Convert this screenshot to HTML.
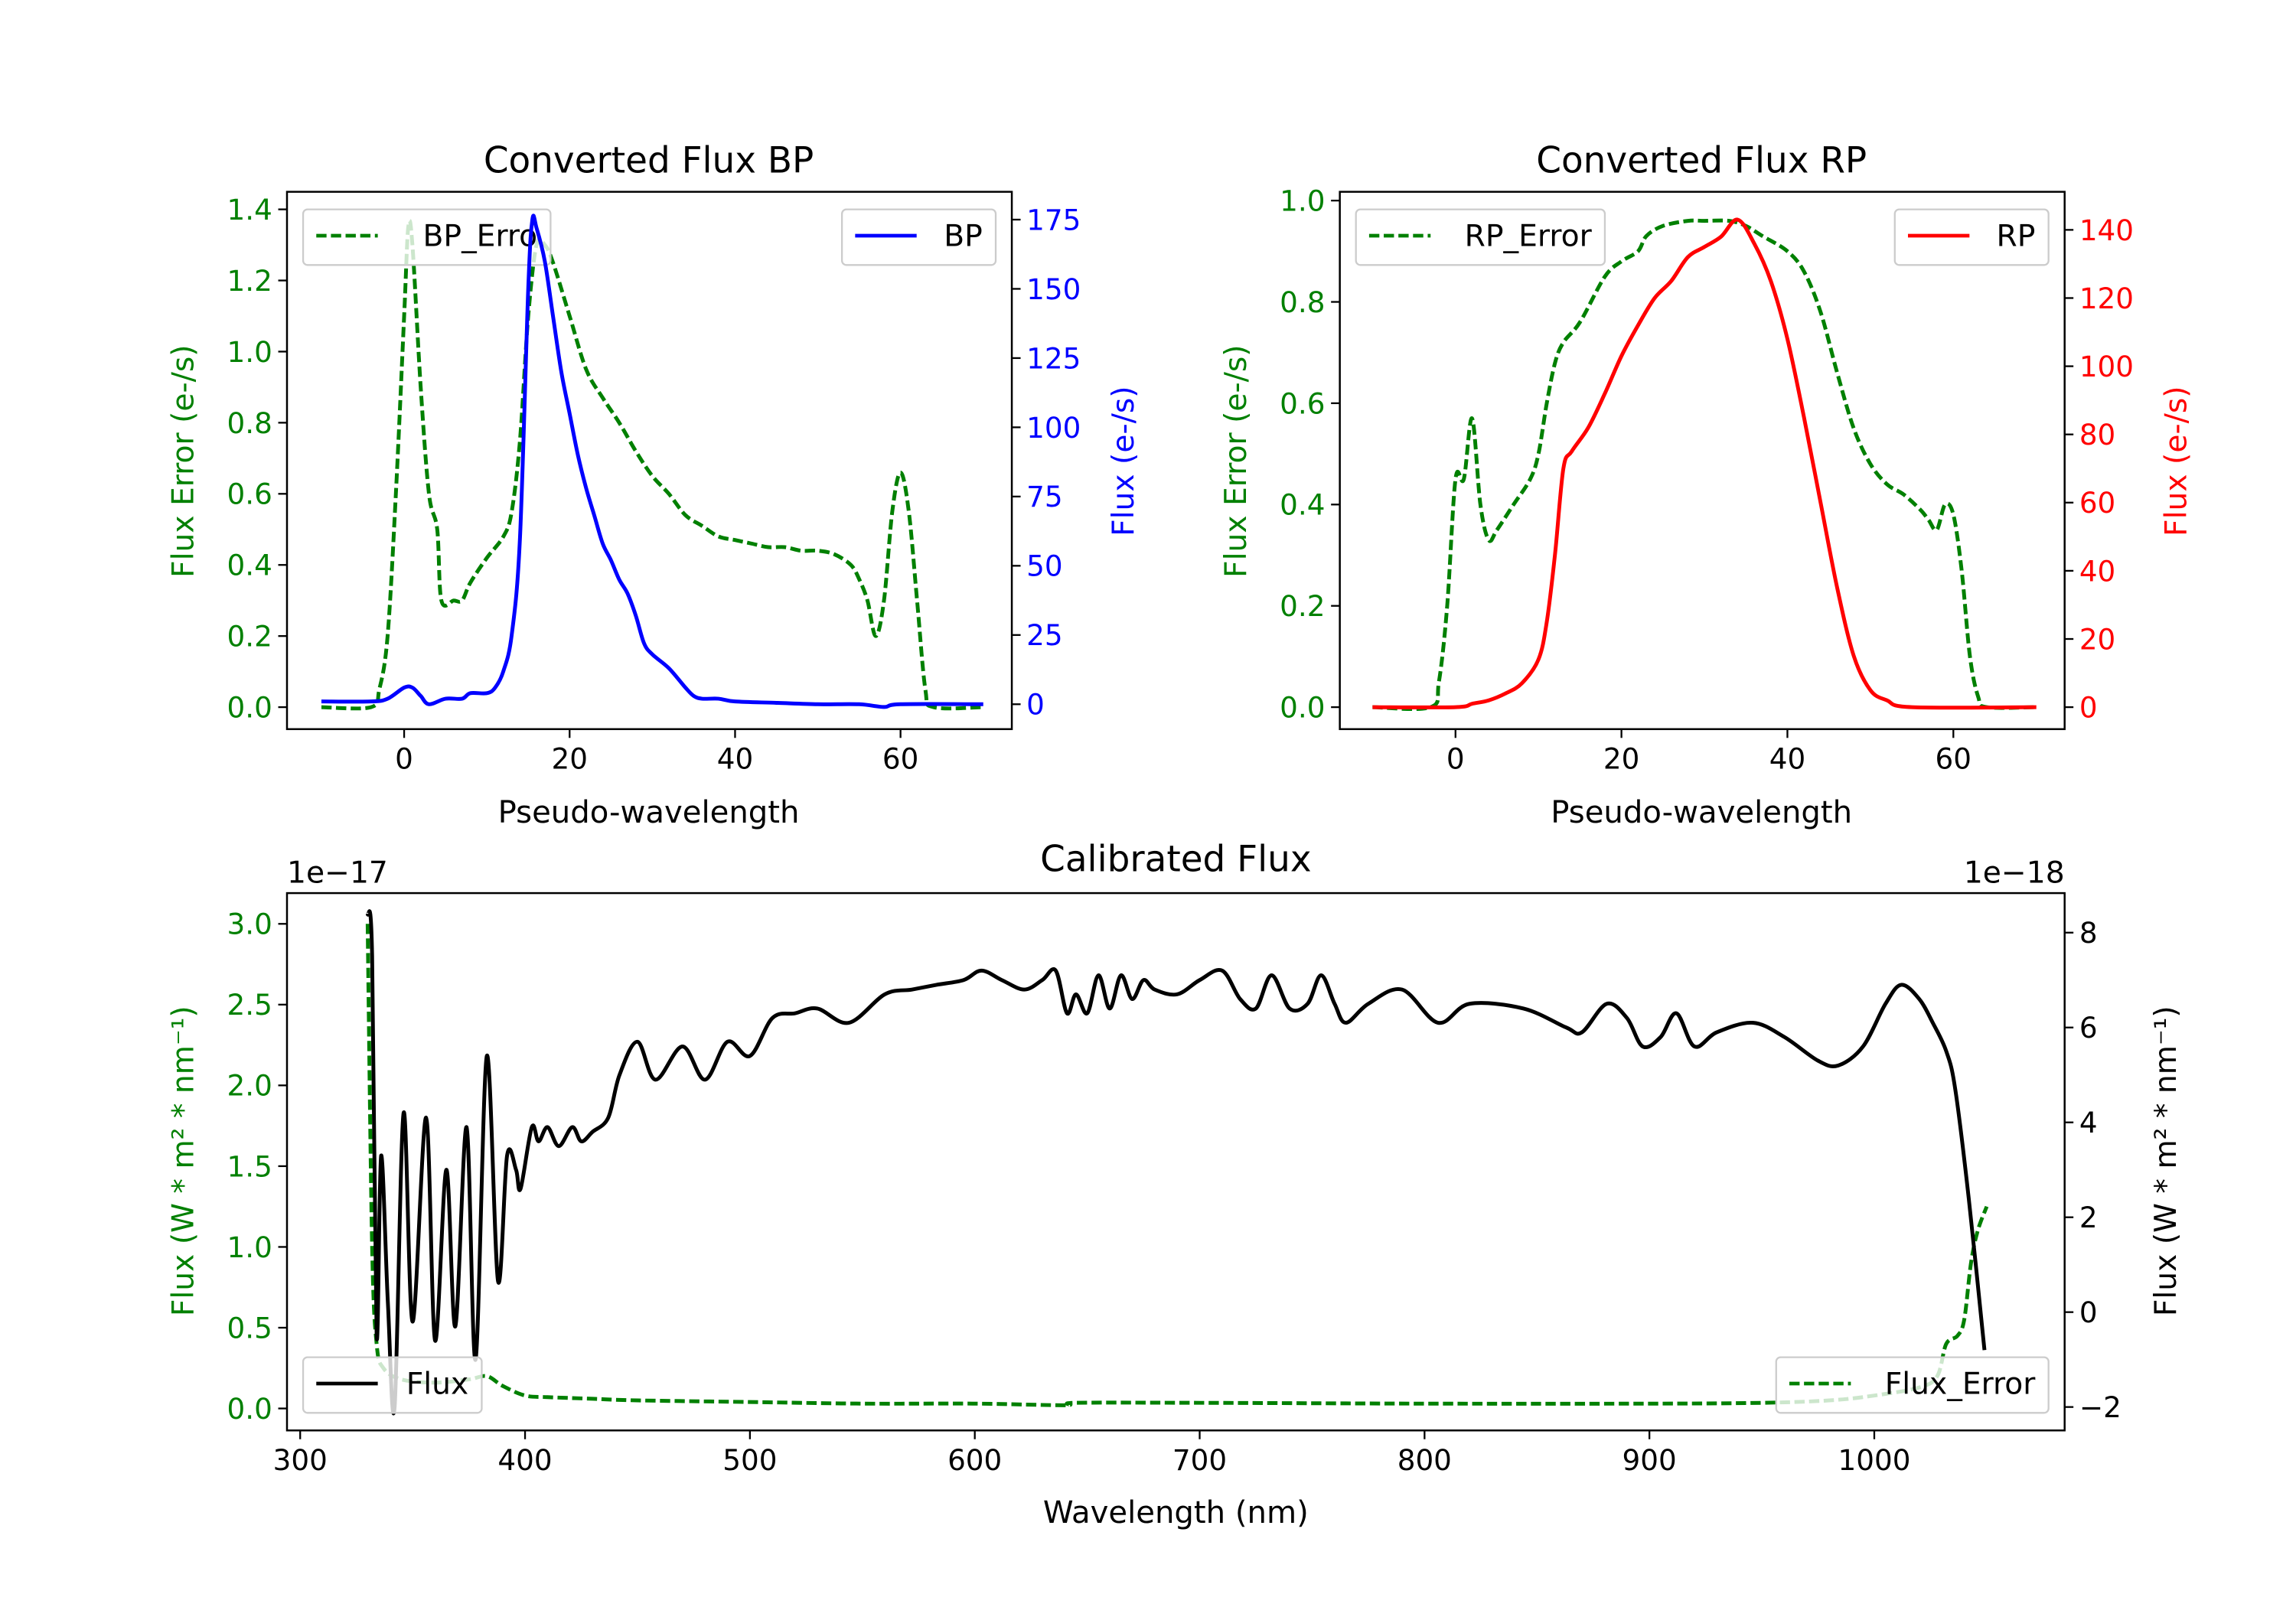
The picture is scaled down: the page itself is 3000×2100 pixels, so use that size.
<!DOCTYPE html>
<html><head><meta charset="utf-8"><style>
html,body{margin:0;padding:0;background:#fff;}
svg{display:block;}
text{font-family:"DejaVu Sans","Liberation Sans",sans-serif;}
</style></head><body>
<svg id="fig" width="3000" height="2100" viewBox="0 0 1568 1097.6" preserveAspectRatio="none" xmlns="http://www.w3.org/2000/svg">
<rect width="1568" height="1098" fill="#fff"/>
<defs>
<clipPath id="c1"><rect x="196" y="131" width="495" height="367"/></clipPath>
<clipPath id="c2"><rect x="915" y="131" width="495" height="367"/></clipPath>
<clipPath id="c3"><rect x="196" y="610" width="1214" height="367"/></clipPath>
</defs>
<g id="g"></g>
</svg>
<script>
// ---- BP panel data ----
const bpX = [-10,-4,-2,0,1,2,3,5,7,8,10,11,12,13,14,15,15.5,16,17,18,19,20,21,22,23,24,25,26,27,28,29,30,32,34,35,36,38,40,45,50,55,58,60,70];
const bpFlux = [1,1,2,6,6,3,0,2,2,4,4,6,12,25,60,150,175,172,160,140,120,105,90,78,68,58,52,45,40,32,22,18,13,6,3,2,2,1,0.5,0,0,-1,0,0];
const bpErrX = [-10,-4,-3,-2,-1,0,0.5,1,2,3,4,4.5,6,7,8,10,12,13,14,15,16,17,18,20,22,24,26,28,30,32,34,36,38,40,42,44,46,48,50,52,54,55,56,57,58,59,60,61,62,63,64,70];
const bpErr = [0,0,0.05,0.2,0.6,1.1,1.35,1.3,0.9,0.6,0.5,0.3,0.3,0.3,0.35,0.42,0.48,0.55,0.75,1.1,1.3,1.3,1.25,1.1,0.95,0.87,0.8,0.72,0.65,0.6,0.54,0.51,0.48,0.47,0.46,0.45,0.45,0.44,0.44,0.43,0.4,0.36,0.3,0.2,0.3,0.55,0.66,0.55,0.3,0.05,0,0];
// ---- RP panel data ----
const rpX = [-10,0,2,4,6,8,10,11,12,13,14,16,18,20,22,24,26,28,30,32,34,36,38,40,42,44,46,48,50,52,55,70];
const rpFlux = [0,0,1,2,4,7,14,25,45,70,75,82,92,103,112,120,125,132,135,138,143,136,125,108,85,60,35,15,5,2,0,0];
const rpErrX = [-10,-3,-2,-1,0,1,2,3,4,5,7,9,10,11,12,13,15,18,20,22,23,25,28,30,33,35,37,40,42,44,46,48,50,52,54,56,57,58,59,60,61,62,63,64,70];
const rpErr = [0,0,0.05,0.2,0.45,0.45,0.57,0.4,0.33,0.35,0.4,0.45,0.5,0.6,0.68,0.72,0.76,0.85,0.88,0.9,0.93,0.95,0.96,0.96,0.96,0.95,0.93,0.9,0.86,0.78,0.66,0.55,0.48,0.44,0.42,0.39,0.37,0.35,0.4,0.38,0.27,0.1,0.02,0,0];
// ---- Calibrated flux data ----
const wlX = [330,332,334,336,339,342,346,350,356,360,365,369,374,378,383,388,392,396,398,403,406,410,415,421,425,430,437,442,450,458,470,480,490,500,510,520,530,544,560,572,583,595,603,612,622,630,636,641,645,650,655,660,665,670,675,680,690,700,710,718,725,732,740,748,754,760,765,775,790,806,820,844,863,870,881,890,897,905,912,920,930,946,960,975,984,995,1005,1012,1020,1026,1032,1036,1042,1049];
const wlFlux = [8.4,7.5,-0.5,3.3,0.2,-2,4.2,-0.2,4.1,-0.6,3,-0.3,3.9,-1,5.4,0.65,3.3,3,2.6,3.9,3.6,3.9,3.5,3.9,3.6,3.8,4.1,5,5.7,4.9,5.6,4.9,5.7,5.4,6.2,6.3,6.4,6.1,6.7,6.8,6.9,7.0,7.2,7.0,6.8,7.0,7.2,6.3,6.7,6.3,7.1,6.4,7.1,6.6,7.0,6.8,6.7,7.0,7.2,6.6,6.4,7.1,6.4,6.5,7.1,6.5,6.1,6.5,6.8,6.1,6.5,6.4,6.0,5.9,6.5,6.2,5.6,5.8,6.3,5.6,5.9,6.1,5.8,5.3,5.2,5.6,6.5,6.9,6.6,6.1,5.5,4.7,2.4,-0.8];
const errX = [330,332,334,337,345,360,375,383,390,400,410,430,450,500,550,600,640,645,700,800,900,950,980,1000,1020,1028,1032,1037,1040,1043,1046,1050];
const errVal = [3.0,1.0,0.4,0.25,0.18,0.16,0.18,0.2,0.14,0.08,0.07,0.06,0.05,0.04,0.03,0.03,0.02,0.035,0.035,0.03,0.03,0.035,0.05,0.08,0.13,0.2,0.4,0.45,0.55,0.9,1.1,1.25];

const NS='http://www.w3.org/2000/svg';
const G=document.getElementById('g');
function el(tag,attrs,parent){const e=document.createElementNS(NS,tag);for(const k in attrs)e.setAttribute(k,attrs[k]);(parent||G).appendChild(e);return e;}
function lin(d0,d1,p0,p1){return v=>p0+(v-d0)*(p1-p0)/(d1-d0);}
// Catmull-Rom smoothed path through the data points
function pathD(xs,ys,fx,fy){
  const P=xs.map((x,i)=>[fx(x),fy(ys[i])]);
  let d='M'+P[0][0].toFixed(2)+','+P[0][1].toFixed(2);
  for(let i=0;i<P.length-1;i++){
    const p0=P[Math.max(0,i-1)],p1=P[i],p2=P[i+1],p3=P[Math.min(P.length-1,i+2)];
    const c1=[p1[0]+(p2[0]-p0[0])/6,p1[1]+(p2[1]-p0[1])/6];
    const c2=[p2[0]-(p3[0]-p1[0])/6,p2[1]-(p3[1]-p1[1])/6];
    d+='C'+c1[0].toFixed(2)+','+c1[1].toFixed(2)+' '+c2[0].toFixed(2)+','+c2[1].toFixed(2)+' '+p2[0].toFixed(2)+','+p2[1].toFixed(2);
  }
  return d;
}
function txt(x,y,s,size,fill,anchor,rot){const t=el('text',{x:x,y:y,'font-size':size,fill:fill,'text-anchor':anchor||'middle'});if(rot)t.setAttribute('transform','rotate(-90 '+x+' '+y+')');t.textContent=s;return t;}

function legend(x,y,w,label,color,dash){
  const g=el('g',{});
  
  
  el('rect',{x:x,y:y,width:w,height:38,rx:3,fill:'#fff','fill-opacity':0.8,stroke:'#ccc','stroke-width':1.2},g);
  const l=el('line',{x1:x+9,y1:y+18,x2:x+51,y2:y+18,stroke:color,'stroke-width':2.5},g);
  if(dash)l.setAttribute('stroke-dasharray','7,3');
  const t=el('text',{x:x+w-9,y:y+25,'font-size':20.5,fill:'#000','text-anchor':'end'},g);t.textContent=label;
}

function yTicks(x,side,vals,fy,fmt,color){
  vals.forEach(v=>{const y=fy(v);
    if(side<0){el('line',{x1:x,y1:y,x2:x-6,y2:y,stroke:'#000','stroke-width':1.2});txt(x-10,y+7,fmt(v),19.5,color,'end');}
    else{el('line',{x1:x,y1:y,x2:x+6,y2:y,stroke:'#000','stroke-width':1.2});txt(x+10,y+7,fmt(v),19.5,color,'start');}
  });
}
function xTicks(y,vals,fx){vals.forEach(v=>{const x=fx(v);el('line',{x1:x,y1:y,x2:x,y2:y+6,stroke:'#000','stroke-width':1.2});txt(x,y+27,String(v),19.5,'#000');});}

const f1=v=>v.toFixed(1);
const LW=2.6;
// ---------- BP ----------
(function(){
  const fx=lin(0,60,276,615), fyL=lin(0,1.4,483,143), fyR=lin(0,175,481,150);
  const e=el('path',{d:pathD(bpErrX,bpErr,fx,fyL),fill:'none',stroke:'green','stroke-width':LW,'stroke-dasharray':'7,3','clip-path':'url(#c1)'});
  
  
  legend(207,143,169,'BP_Erro','green',true);
  const l=el('path',{d:pathD(bpX,bpFlux,fx,fyR),fill:'none',stroke:'blue','stroke-width':LW,'clip-path':'url(#c1)'});
  
  
  legend(575,143,105,'BP','blue',false);
  el('rect',{x:196,y:131,width:495,height:367,fill:'none',stroke:'#000','stroke-width':1.3});
  yTicks(196,-1,[0,0.2,0.4,0.6,0.8,1.0,1.2,1.4],fyL,f1,'green');
  yTicks(691,1,[0,25,50,75,100,125,150,175],fyR,v=>String(v),'blue');
  xTicks(498,[0,20,40,60],fx);
  txt(443,118,'Converted Flux BP',24.5,'#000');
  txt(443,562,'Pseudo-wavelength',21,'#000');
  txt(132,315,'Flux Error (e-/s)',20.5,'green','middle',true);
  txt(774,315,'Flux (e-/s)',20.5,'blue','middle',true);
})();
// ---------- RP ----------
(function(){
  const fx=lin(0,60,994,1334), fyL=lin(0,1.0,483,137), fyR=lin(0,140,483,157);
  const e=el('path',{d:pathD(rpErrX,rpErr,fx,fyL),fill:'none',stroke:'green','stroke-width':LW,'stroke-dasharray':'7,3','clip-path':'url(#c2)'});
  
  
  legend(926,143,170,'RP_Error','green',true);
  const l=el('path',{d:pathD(rpX,rpFlux,fx,fyR),fill:'none',stroke:'red','stroke-width':LW,'clip-path':'url(#c2)'});
  
  
  legend(1294,143,105,'RP','red',false);
  el('rect',{x:915,y:131,width:495,height:367,fill:'none',stroke:'#000','stroke-width':1.3});
  yTicks(915,-1,[0,0.2,0.4,0.6,0.8,1.0],fyL,f1,'green');
  yTicks(1410,1,[0,20,40,60,80,100,120,140],fyR,v=>String(v),'red');
  xTicks(498,[0,20,40,60],fx);
  txt(1162,118,'Converted Flux RP',24.5,'#000');
  txt(1162,562,'Pseudo-wavelength',21,'#000');
  txt(851,315,'Flux Error (e-/s)',20.5,'green','middle',true);
  txt(1493,315,'Flux (e-/s)',20.5,'red','middle',true);
})();
// ---------- Calibrated ----------
(function(){
  const fx=lin(300,1000,205,1280), fyL=lin(0,3.0,962,631), fyR=lin(-2,8,961,637);
  const e=el('path',{d:pathD(errX,errVal,fx,fyL),fill:'none',stroke:'green','stroke-width':LW,'stroke-dasharray':'7,3','clip-path':'url(#c3)'});
  
  
  const l=el('path',{d:pathD(wlX,wlFlux,fx,fyR),fill:'none',stroke:'#000','stroke-width':LW,'stroke-linejoin':'round','clip-path':'url(#c3)'});
  
  
  legend(207,927,122,'Flux','#000',false);
  legend(1213,927,186,'Flux_Error','green',true);
  el('rect',{x:196,y:610,width:1214,height:367,fill:'none',stroke:'#000','stroke-width':1.3});
  yTicks(196,-1,[0,0.5,1.0,1.5,2.0,2.5,3.0],fyL,f1,'green');
  yTicks(1410,1,[-2,0,2,4,6,8],fyR,v=>(v<0?'\u2212'+(-v):String(v)),'#000');
  xTicks(977,[300,400,500,600,700,800,900,1000],fx);
  txt(803,595,'Calibrated Flux',24.5,'#000');
  txt(803,1040,'Wavelength (nm)',21,'#000');
  txt(196,603,'1e\u221217',20.5,'#000','start');
  txt(1410,603,'1e\u221218',20.5,'#000','end');
  txt(132,793,'Flux (W * m\u00b2 * nm\u207b\u00b9)',20.5,'green','middle',true);
  txt(1486,793,'Flux (W * m\u00b2 * nm\u207b\u00b9)',20.5,'#000','middle',true);
})();
</script>
</body></html>
